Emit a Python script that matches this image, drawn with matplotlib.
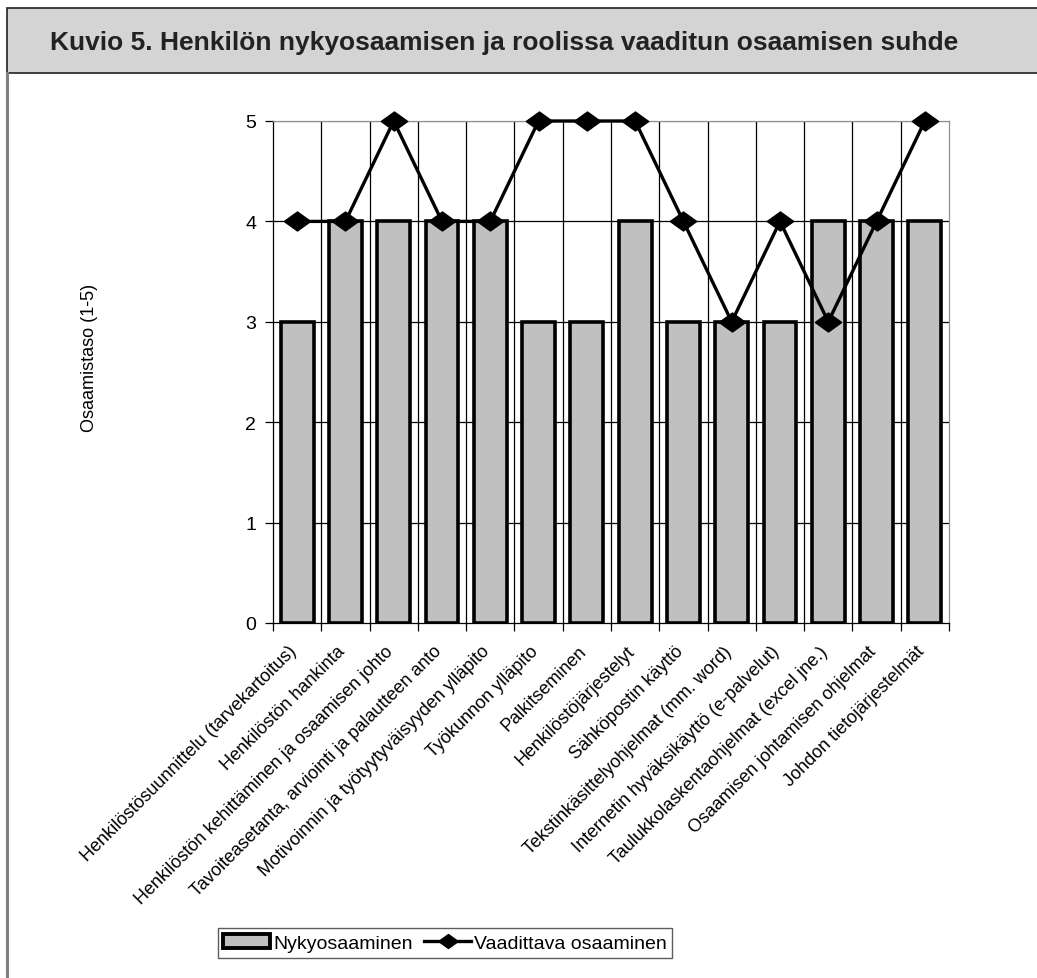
import matplotlib
matplotlib.use("Agg")
import matplotlib.pyplot as plt
import matplotlib.transforms as mtransforms
from matplotlib.patches import Rectangle, Patch
from matplotlib.lines import Line2D
from matplotlib.path import Path
import numpy as np

plt.rcParams['font.family'] = ['Liberation Sans', 'DejaVu Sans']

categories = [
    "Henkilöstösuunnittelu (tarvekartoitus)",
    "Henkilöstön hankinta",
    "Henkilöstön kehittäminen ja osaamisen johto",
    "Tavoiteasetanta, arviointi ja palautteen anto",
    "Motivoinnin ja työtyytyväisyyden ylläpito",
    "Työkunnon ylläpito",
    "Palkitseminen",
    "Henkilöstöjärjestelyt",
    "Sähköpostin käyttö",
    "Tekstinkäsittelyohjelmat (mm. word)",
    "Internetin hyväksikäyttö (e-palvelut)",
    "Taulukkolaskentaohjelmat (excel jne.)",
    "Osaamisen johtamisen ohjelmat",
    "Johdon tietojärjestelmät",
]
nykyosaaminen = [3, 4, 4, 4, 4, 3, 3, 4, 3, 3, 3, 4, 4, 4]
vaadittava = [4, 4, 5, 4, 4, 5, 5, 5, 4, 3, 4, 3, 4, 5]
yticks = [0, 1, 2, 3, 4, 5]

title = "Kuvio 5. Henkilön nykyosaamisen ja roolissa vaaditun osaamisen suhde"
ylabel = "Osaamistaso (1-5)"
legend_labels = ["Nykyosaaminen", "Vaadittava osaaminen"]

W, H = 1037, 979
fig = plt.figure(figsize=(W / 100, H / 100), dpi=100)
fig.patch.set_facecolor("white")

# header band
fig.add_artist(Rectangle((7 / W, 1 - 74 / H), 1.05, 65 / H, transform=fig.transFigure,
                         facecolor="#d4d4d4", edgecolor="#222222", lw=1.2, zorder=0))
fig.add_artist(Line2D([7 / W, 7 / W], [0, 1 - 74 / H], transform=fig.transFigure,
                      color="#808080", lw=2.2))
fig.text(50 / W, 1 - 43 / H, title, fontsize=19, fontweight="bold", color="#222222",
         ha="left", va="center")

ax = fig.add_axes([273 / W, 1 - 624 / H, 676 / W, 502 / H])
n = len(categories)
x = np.arange(n)
ax.set_xlim(-0.5, n - 0.5)
ax.set_ylim(0, 5)

# grid
for yv in yticks[1:]:
    ax.axhline(yv, color="#000000" if yv < 5 else "#909090", lw=0.9, zorder=1)
for b in np.arange(n + 1) - 0.5:
    if 0 < b + 0.5 < n:
        ax.axvline(b, color="black", lw=0.9, zorder=1)

ax.bar(x, nykyosaaminen, width=0.68, color="#c0c0c0", edgecolor="black", lw=2.6, zorder=2)

diamond = Path([(-1, 0), (0, 0.72), (1, 0), (0, -0.72), (-1, 0)],
               [Path.MOVETO, Path.LINETO, Path.LINETO, Path.LINETO, Path.CLOSEPOLY])
ax.plot(x, vaadittava, color="black", lw=2.4, marker=diamond, markersize=19,
        markerfacecolor="black", markeredgecolor="black", zorder=4, clip_on=False)

for s in ["top", "right"]:
    ax.spines[s].set_color("#909090")
    ax.spines[s].set_linewidth(0.9)
for s in ["left", "bottom"]:
    ax.spines[s].set_color("black")
    ax.spines[s].set_linewidth(0.9)

ax.set_yticks(yticks)
ax.set_yticklabels([str(v) for v in yticks], fontsize=14)
ax.tick_params(axis="y", length=6, width=0.9, pad=6)
ax.set_xticks(np.arange(n + 1) - 0.5, minor=False)
ax.set_xticklabels([])
ax.tick_params(axis="x", length=6, width=0.9)
ax.set_xticks(x, minor=True)
ax.set_xticklabels(categories, minor=True, rotation=45, ha="right", va="top",
                   rotation_mode="anchor", fontsize=13)
ax.tick_params(axis="x", which="minor", length=0, pad=14)
offset = mtransforms.ScaledTranslation(-9 / 100, 0, fig.dpi_scale_trans)
for lbl in ax.get_xticklabels(minor=True):
    lbl.set_transform(lbl.get_transform() + offset)

fig.text(90 / W, 1 - 358 / H, ylabel, rotation=90, fontsize=13, ha="center", va="center")

handles = [Patch(facecolor="#c0c0c0", edgecolor="black", lw=2.8),
           Line2D([0], [0], color="black", lw=2.4, marker=diamond, markersize=14)]
leg = fig.legend(handles, legend_labels, loc="center", bbox_to_anchor=(445 / W, 1 - 944 / H),
                 ncol=2, frameon=True, fancybox=False, fontsize=14, handlelength=2.4,
                 handletextpad=0.15, columnspacing=0.6, borderpad=0.3, borderaxespad=0)
leg.get_frame().set_edgecolor("#333333")
leg.get_frame().set_linewidth(1.0)

fig.savefig("out.png", dpi=100)
